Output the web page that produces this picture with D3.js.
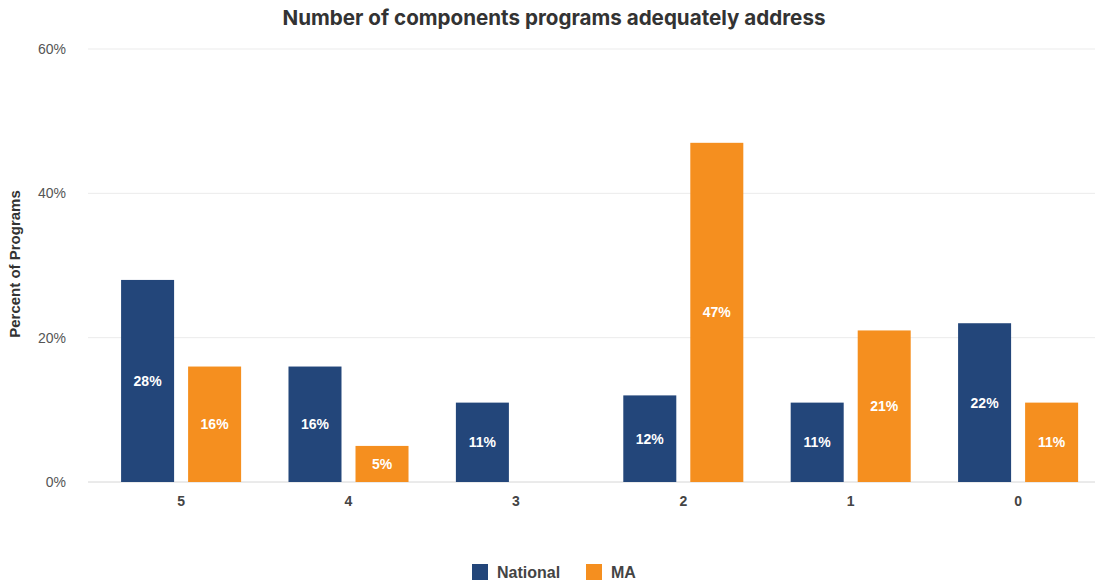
<!DOCTYPE html>
<html>
<head>
<meta charset="utf-8">
<script src="https://cdn.jsdelivr.net/npm/d3@7"></script>
<style>
  html, body { margin: 0; padding: 0; background: #fff; }
  svg { display: block; font-family: "Liberation Sans", Arial, sans-serif; }
</style>
</head>
<body>
<svg id="chart" width="1095" height="585"></svg>
<script>
// Share of programs by number of components adequately addressed
const categories = ["5", "4", "3", "2", "1", "0"];
const seriesNames = ["National", "MA"];
const nationalValues = [28, 16, 11, 12, 11, 22];
const maValues = [16, 5, 0, 47, 21, 11];
const yTicks = [0, 20, 40, 60];
const colors = { National: "#23467a", MA: "#f58f1f" };

const rows = categories.map((c, i) => ({
  category: c,
  values: [
    { series: "National", value: nationalValues[i] },
    { series: "MA", value: maValues[i] }
  ]
}));

const svg = d3.select("#chart");
const W = 1095, H = 585;
const bodyFont = "'Liberation Sans', Arial, sans-serif";

const y = d3.scaleLinear().domain([0, 60]).range([482, 49]);

const x0 = d3.scaleBand()
  .domain(categories)
  .range([97.4, 1101.8])
  .paddingInner(0.283)
  .paddingOuter(0.1415);

const x1 = d3.scaleBand()
  .domain(seriesNames)
  .range([0, x0.bandwidth()])
  .paddingInner(0.209);

// Title
svg.append("text")
  .attr("x", 554).attr("y", 25)
  .attr("text-anchor", "middle")
  .attr("font-family", "Inter, Roboto, sans-serif")
  .attr("font-size", 20.6).attr("font-weight", 700)
  .attr("fill", "#333")
  .text("Number of components programs adequately address");

// Grid lines and y tick labels
const grid = svg.append("g");
grid.selectAll("line").data(yTicks).join("line")
  .attr("x1", 88).attr("x2", W)
  .attr("y1", d => y(d)).attr("y2", d => y(d))
  .attr("stroke", d => d === 0 ? "#d6d6d6" : "#ebebeb")
  .attr("stroke-width", 1);

const yAxis = svg.append("g")
  .attr("transform", "translate(66,0)")
  .call(d3.axisLeft(y).tickValues(yTicks).tickFormat(d => d + "%").tickSize(0).tickPadding(0));
yAxis.select(".domain").remove();
yAxis.selectAll("text")
  .attr("font-size", 14).attr("fill", "#555")
  .attr("font-family", bodyFont);

// Y axis title
svg.append("text")
  .attr("transform", "translate(20,264) rotate(-90)")
  .attr("text-anchor", "middle")
  .attr("font-size", 15).attr("font-weight", 700)
  .attr("fill", "#333")
  .text("Percent of Programs");

// X axis labels
const xAxis = svg.append("g")
  .attr("transform", "translate(0,482)")
  .call(d3.axisBottom(x0).tickSize(0).tickPadding(14));
xAxis.select(".domain").remove();
xAxis.selectAll("text")
  .attr("font-size", 14).attr("font-weight", 700).attr("fill", "#444")
  .attr("font-family", bodyFont);

// Bars
const groups = svg.append("g").selectAll("g").data(rows).join("g")
  .attr("transform", d => `translate(${x0(d.category)},0)`);

groups.selectAll("rect").data(d => d.values).join("rect")
  .attr("x", d => x1(d.series))
  .attr("width", x1.bandwidth())
  .attr("y", d => y(d.value))
  .attr("height", d => y(0) - y(d.value))
  .attr("fill", d => colors[d.series]);

groups.selectAll("text").data(d => d.values.filter(v => v.value > 0)).join("text")
  .attr("x", d => x1(d.series) + x1.bandwidth() / 2)
  .attr("y", d => (y(d.value) + y(0)) / 2)
  .attr("dy", "0.35em")
  .attr("text-anchor", "middle")
  .attr("font-size", 14).attr("font-weight", 700)
  .attr("fill", "#fff")
  .text(d => d.value + "%");

// Legend
const legendItems = [
  { name: "National", x: 472 },
  { name: "MA", x: 586 }
];
const legend = svg.append("g").selectAll("g").data(legendItems).join("g")
  .attr("transform", d => `translate(${d.x},564)`);
legend.append("rect")
  .attr("width", 16).attr("height", 16)
  .attr("fill", d => colors[d.name]);
legend.append("text")
  .attr("x", 25).attr("y", 8).attr("dy", "0.35em")
  .attr("font-size", 16).attr("font-weight", 700)
  .attr("fill", "#444")
  .text(d => d.name);
</script>
</body>
</html>
